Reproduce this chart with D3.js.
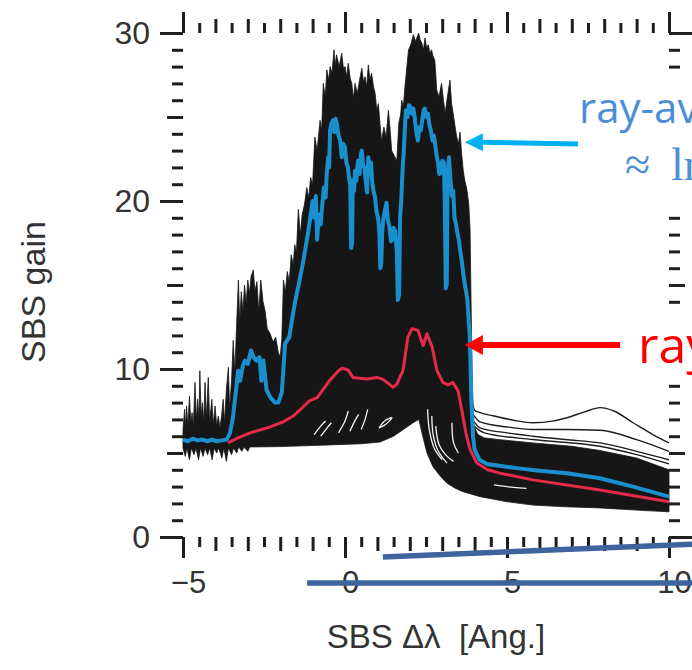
<!DOCTYPE html>
<html><head><meta charset="utf-8">
<script src="https://cdn.jsdelivr.net/npm/d3@7"></script>
<style>body{margin:0;background:#fff} svg{display:block}</style>
</head><body><svg id="c" width="692" height="670"></svg>
<script>
// ---------- data ----------
const xMajor = [-5, 0, 5, 10];
const xLabels = ["−5", "0", "5", "10"];
const yMajor = [0, 10, 20, 30];
const yLabels = ["0", "10", "20", "30"];

// upper edge of the dense bundle of individual ray curves
const upperEnvelope = [
[-5.0,6.4],[-4.95,7.6],[-4.92,6.5],[-4.89,7.8],[-4.85,6.6],[-4.8,8.4],[-4.76,6.8],[-4.72,7.4],[-4.68,6.6],[-4.63,9.2],[-4.59,6.9],[-4.55,8.2],[-4.51,7.0],[-4.48,9.9],[-4.44,7.2],[-4.4,8.0],[-4.36,6.8],[-4.32,9.2],[-4.28,7.0],[-4.22,9.5],[-4.18,6.9],[-4.14,7.6],[-4.11,8.2],[-4.07,6.7],[-4.01,7.8],[-3.96,6.6],[-3.91,7.2],[-3.86,6.5],[-3.81,7.2],[-3.76,8.2],[-3.72,6.8],[-3.66,8.8],[-3.6,10.1],[-3.56,7.6],[-3.5,9.4],[-3.45,11.7],[-3.4,9.8],[-3.35,12.4],[-3.29,15.3],[-3.25,12.8],[-3.2,14.6],[-3.15,13.4],[-3.1,15.0],[-3.05,13.9],[-3.0,15.3],[-2.95,14.5],[-2.9,15.5],[-2.83,15.9],[-2.78,14.6],[-2.72,15.2],[-2.66,13.4],[-2.6,15.3],[-2.53,14.0],[-2.47,13.5],[-2.4,12.4],[-2.31,12.1],[-2.22,11.6],[-2.14,11.9],[-2.06,11.0],[-2.0,10.7],[-1.95,11.8],[-1.9,15.3],[-1.84,14.6],[-1.78,15.8],[-1.72,15.2],[-1.66,16.8],[-1.6,16.2],[-1.55,17.4],[-1.5,16.9],[-1.44,19.5],[-1.38,18.0],[-1.32,19.2],[-1.25,19.8],[-1.18,20.8],[-1.12,20.2],[-1.06,21.4],[-1.0,21.0],[-0.93,23.8],[-0.86,23.0],[-0.77,24.8],[-0.72,24.2],[-0.67,27.0],[-0.61,26.2],[-0.56,27.8],[-0.5,27.2],[-0.46,28.0],[-0.4,27.6],[-0.34,29.0],[-0.3,28.1],[-0.26,28.7],[-0.18,28.0],[-0.1,28.8],[-0.05,27.9],[0.0,28.0],[0.05,27.4],[0.1,28.2],[0.16,27.3],[0.21,27.0],[0.26,26.1],[0.31,27.0],[0.38,26.4],[0.45,27.2],[0.52,27.9],[0.57,27.1],[0.62,27.4],[0.67,26.8],[0.72,28.1],[0.77,27.2],[0.82,27.6],[0.88,26.8],[0.93,26.4],[0.98,25.4],[1.03,25.8],[1.08,24.6],[1.13,23.6],[1.2,24.4],[1.27,23.8],[1.34,25.4],[1.39,24.3],[1.44,23.0],[1.52,22.7],[1.6,22.4],[1.66,24.6],[1.72,25.2],[1.75,26.0],[1.8,25.6],[1.85,26.8],[1.9,27.8],[1.96,29.0],[2.03,29.3],[2.11,29.9],[2.18,29.5],[2.27,30.0],[2.32,29.6],[2.37,29.4],[2.42,29.0],[2.47,29.7],[2.52,29.1],[2.57,29.3],[2.62,28.8],[2.67,29.0],[2.72,28.6],[2.77,28.4],[2.8,27.6],[2.83,26.6],[2.9,26.2],[2.98,27.0],[3.04,26.0],[3.09,25.2],[3.16,26.2],[3.24,27.2],[3.29,25.8],[3.34,25.2],[3.4,24.4],[3.45,23.8],[3.5,23.4],[3.55,24.1],[3.6,22.8],[3.65,21.8],[3.7,21.2],[3.76,20.7],[3.82,19.8],[3.86,18.3],[3.89,14.0],[3.92,10.0],[3.95,7.6],[3.98,6.6],[4.1,6.1],[4.3,5.9],[5.0,5.75],[5.8,5.6],[7.0,5.4],[7.87,5.15],[9.0,4.7],[10.0,4.0]
];
// lower edge of the bundle
const lowerEnvelope = [
[-5.0,5.3],[-4.93,4.8],[-4.88,5.3],[-4.8,4.6],[-4.74,5.3],[-4.66,4.9],[-4.6,5.3],[-4.52,4.6],[-4.46,5.3],[-4.38,4.8],[-4.32,5.3],[-4.24,4.9],[-4.18,5.3],[-4.1,4.6],[-4.04,5.3],[-3.96,5.0],[-3.9,5.3],[-3.8,4.7],[-3.74,5.3],[-3.66,4.5],[-3.6,5.3],[-3.5,4.9],[-3.44,5.3],[-3.34,5.0],[-3.28,5.35],[-3.18,5.1],[-3.12,5.35],[-3.0,5.1],[-2.94,5.36],[-2.0,5.38],[-0.5,5.48],[0.5,5.55],[1.08,5.65],[1.5,6.0],[1.8,6.4],[2.1,6.8],[2.28,7.0],[2.4,6.0],[2.53,5.0],[2.72,4.17],[2.95,3.6],[3.15,3.2],[3.4,2.9],[3.64,2.7],[4.17,2.4],[5.0,2.1],[5.8,1.9],[6.8,1.8],[7.87,1.73],[9.0,1.6],[10.0,1.5]
];
// individual ray curves standing out above the bundle in the tail
const tailRayA = [[3.93,8.0],[4.0,7.55],[4.17,7.4],[4.6,7.2],[5.2,6.95],[5.8,6.8],[6.4,6.9],[6.85,7.1],[7.4,7.45],[7.87,7.7],[8.3,7.5],[8.89,6.8],[9.5,6.1],[10.0,5.6]];
const tailRayB = [[3.95,7.3],[4.17,6.85],[5.0,6.55],[5.8,6.4],[6.8,6.4],[7.87,6.35],[9.0,5.8],[10.0,5.1]];
const tailRayC = [[3.97,6.9],[4.17,6.5],[5.0,6.2],[5.8,6.0],[6.8,5.8],[7.87,5.6],[9.0,5.1],[10.0,4.6]];
const tailRayD = [[3.98,6.6],[4.3,6.2],[5.8,5.8],[7.87,5.4],[9.0,4.9],[10.0,4.35]];
// thin gaps between ray curves inside the bundle
const gapStreaks = [
  [[-0.95,6.1],[-0.75,6.6],[-0.6,6.9]],
  [[-0.75,6.0],[-0.55,6.5],[-0.42,6.8]],
  [[-0.2,6.2],[0.0,6.9],[0.1,7.5]],
  [[0.15,6.3],[0.3,6.9],[0.42,7.3]],
  [[0.5,6.4],[0.62,7.0],[0.7,7.6]],
  [[1.05,6.5],[1.25,6.95],[1.45,7.1],[1.25,6.7],[1.05,6.5]],
  [[2.55,7.6],[2.6,6.4],[2.75,5.3],[3.0,4.6]],
  [[2.68,7.2],[2.72,6.1],[2.88,5.1],[3.15,4.4]],
  [[2.8,6.6],[2.9,5.5],[3.1,4.9],[3.35,4.5]],
  [[3.3,6.8],[3.35,5.6],[3.5,5.0]],
  [[4.6,3.1],[5.2,2.95],[5.6,2.9]]
];

// ray-averaged gain (blue)
const rayAveraged = [
[-5.0,5.8],[-4.85,5.7],[-4.7,5.85],[-4.55,5.75],[-4.4,5.8],[-4.25,5.7],[-4.1,5.8],[-3.95,5.7],[-3.8,5.75],[-3.65,5.8],[-3.55,6.2],[-3.46,7.1],[-3.36,8.8],[-3.3,9.9],[-3.24,9.3],[-3.15,10.2],[-3.09,10.5],[-3.0,10.3],[-2.9,11.1],[-2.82,10.7],[-2.74,10.5],[-2.64,10.7],[-2.58,9.3],[-2.52,10.5],[-2.42,8.75],[-2.3,8.3],[-2.16,8.0],[-2.06,8.0],[-1.95,8.6],[-1.85,11.5],[-1.72,11.9],[-1.62,13.1],[-1.55,13.9],[-1.4,15.3],[-1.28,16.5],[-1.14,18.1],
[-1.0,20.0],[-0.95,19.0],[-0.9,20.3],[-0.86,17.7],[-0.8,19.2],[-0.75,18.6],[-0.71,19.6],[-0.65,20.8],[-0.6,20.2],[-0.56,21.7],[-0.52,22.6],[-0.49,22.0],[-0.46,24.2],[-0.42,24.6],[-0.37,24.8],[-0.33,24.1],[-0.29,24.9],[-0.25,24.6],[-0.2,23.9],[-0.15,23.6],[-0.1,22.6],[-0.05,23.4],[0.0,23.2],[0.04,22.3],[0.09,22.0],[0.13,21.3],[0.16,21.0],[0.19,17.2],[0.22,17.5],[0.24,21.25],[0.28,20.6],[0.31,21.8],[0.35,21.2],[0.4,22.4],[0.45,21.6],[0.49,22.8],[0.52,23.0],[0.56,22.1],[0.6,22.0],[0.64,21.2],[0.68,20.5],[0.72,22.6],[0.76,21.8],[0.8,22.3],[0.84,21.1],[0.88,20.6],[0.93,20.2],[0.97,19.4],[1.02,19.0],[1.06,18.2],[1.09,16.0],[1.12,16.3],[1.15,18.2],[1.18,18.9],[1.23,19.4],[1.28,19.9],[1.32,18.9],[1.37,18.5],[1.42,17.6],[1.46,17.7],[1.5,18.4],[1.55,18.2],[1.6,17.0],[1.63,14.1],[1.67,14.4],[1.7,19.0],[1.74,20.2],[1.78,22.0],[1.81,22.8],[1.85,24.4],[1.88,25.4],[1.93,25.0],[1.97,25.7],[2.02,25.6],[2.07,25.2],[2.11,25.5],[2.15,25.0],[2.2,24.1],[2.25,23.6],[2.3,24.4],[2.34,24.2],[2.39,24.9],[2.43,25.4],[2.46,25.5],[2.51,25.0],[2.56,25.2],[2.6,24.6],[2.65,24.2],[2.7,23.6],[2.74,23.9],[2.78,23.4],[2.83,22.7],[2.87,22.3],[2.91,21.6],[2.96,21.7],[3.0,22.4],[3.05,22.3],[3.08,20.0],[3.11,14.8],[3.14,15.0],[3.17,21.8],[3.21,22.6],[3.25,21.4],[3.3,20.3],[3.34,20.6],[3.38,19.0],[3.43,18.6],[3.47,18.1],[3.52,17.6],[3.56,17.0],[3.6,16.5],[3.65,15.7],[3.7,15.0],[3.74,14.6],[3.78,14.1],[3.82,12.8],[3.85,12.1],[3.88,9.8],[3.9,8.2],
[3.95,6.0],[4.0,5.2],[4.15,4.6],[4.38,4.35],[5.3,4.1],[6.0,3.95],[6.85,3.8],[7.87,3.5],[8.89,3.0],[10.0,2.4]
];
// red curve
const rayRed = [
[-3.61,5.6],[-3.3,5.9],[-2.93,6.2],[-2.31,6.55],[-1.91,6.85],[-1.6,7.2],[-1.39,7.56],[-1.1,8.1],[-0.86,8.3],[-0.46,9.35],[-0.2,9.9],[-0.09,10.05],[0.09,9.95],[0.25,9.5],[0.45,9.45],[0.68,9.4],[0.99,9.5],[1.15,9.4],[1.3,9.2],[1.48,8.9],[1.6,9.1],[1.79,9.9],[1.94,11.9],[2.07,12.4],[2.25,12.3],[2.41,11.4],[2.53,12.1],[2.69,11.3],[2.84,9.9],[3.02,9.2],[3.18,9.05],[3.33,9.2],[3.49,8.7],[3.61,7.5],[3.73,6.2],[3.86,5.2],[4.07,4.4],[4.4,4.0],[4.78,3.8],[5.8,3.4],[7.87,2.8],[10.0,2.1]
];

// ---------- drawing ----------
const svg = d3.select("#c");
const x = d3.scaleLinear().domain([-5, 10]).range([183, 669]);
const y = d3.scaleLinear().domain([0, 30]).range([537, 33]);
const line = d3.line().x(d => x(d[0])).y(d => y(d[1]));
const smooth = d3.line().x(d => x(d[0])).y(d => y(d[1])).curve(d3.curveMonotoneX);
const curvy = d3.line().x(d => x(d[0])).y(d => y(d[1])).curve(d3.curveCatmullRom);

svg.append("rect").attr("width", 692).attr("height", 670).attr("fill", "#fff");

// bundle of ray curves
const bundle = upperEnvelope.concat(lowerEnvelope.slice().reverse());
svg.append("path").attr("d", line(bundle) + "Z").attr("fill", "#161616").attr("stroke", "#161616").attr("stroke-width", 0.8);

gapStreaks.forEach(s => {
  svg.append("path").attr("d", curvy(s)).attr("fill", "none").attr("stroke", "#f4f4f4").attr("stroke-width", 1.3);
});
[tailRayA, tailRayB, tailRayC, tailRayD].forEach(r => {
  svg.append("path").attr("d", smooth(r)).attr("fill", "none").attr("stroke", "#1c1c1c").attr("stroke-width", 1.4);
});

svg.append("path").attr("d", line(rayRed)).attr("fill", "none").attr("stroke", "#e62a4a").attr("stroke-width", 3).attr("stroke-linejoin", "round");
svg.append("path").attr("d", line(rayAveraged)).attr("fill", "none").attr("stroke", "#1a8fcd").attr("stroke-width", 4).attr("stroke-linejoin", "round");

// ---------- axes (ticks only, outward) ----------
const halfX = d3.range(-4.5, 10, 1);
const intX = d3.range(-4, 10).filter(v => v % 5 !== 0);
const minorY = d3.range(1, 30).filter(v => v % 5 !== 0);
const midY = [5, 15, 25];
const tickCol = "#1e1e1e";

function tickLayer(axis, tr) {
  const g = svg.append("g").attr("transform", tr).call(axis);
  g.select(".domain").remove();
  g.selectAll("line").attr("stroke", tickCol).attr("stroke-width", 3);
  return g;
}
const bx = `translate(0,${y(0)})`, tx = `translate(0,${y(30)})`;
const lx = `translate(${x(-5)},0)`, rx = `translate(${x(10)},0)`;
[[d3.axisBottom, bx], [d3.axisTop, tx]].forEach(([A, tr]) => {
  tickLayer(A(x).tickValues(halfX).tickSize(10).tickFormat(""), tr);
  tickLayer(A(x).tickValues(intX).tickSize(14).tickFormat(""), tr);
});
[[d3.axisLeft, lx], [d3.axisRight, rx]].forEach(([A, tr]) => {
  tickLayer(A(y).tickValues(minorY).tickSize(11).tickFormat(""), tr);
  tickLayer(A(y).tickValues(midY).tickSize(16).tickFormat(""), tr);
});
tickLayer(d3.axisTop(x).tickValues(xMajor).tickSize(21).tickFormat(""), tx);
tickLayer(d3.axisRight(y).tickValues(yMajor).tickSize(23).tickFormat(""), rx);

const font = "'Liberation Sans', Arial, Helvetica, sans-serif";
const gb = tickLayer(d3.axisBottom(x).tickValues(xMajor).tickSize(21).tickPadding(13).tickFormat((d, i) => xLabels[i]), bx);
gb.selectAll("text").attr("font-size", 31).attr("font-family", font).attr("fill", "#333").attr("dx", 5);
const gl = tickLayer(d3.axisLeft(y).tickValues(yMajor).tickSize(23).tickPadding(10).tickFormat((d, i) => yLabels[i]), lx);
gl.selectAll("text").attr("font-size", 32).attr("font-family", font).attr("fill", "#333");

// axis titles
svg.append("text").attr("x", 436).attr("y", 648).attr("text-anchor", "middle")
  .attr("font-family", font).attr("font-size", 33).attr("fill", "#333").text("SBS Δλ\u00a0\u00a0[Ang.]");
svg.append("text").attr("transform", "translate(45,292) rotate(-90)").attr("text-anchor", "middle")
  .attr("font-family", font).attr("font-size", 34).attr("fill", "#333").text("SBS gain");

// ---------- annotations ----------
// white text boxes covering the right-hand ticks
svg.append("rect").attr("x", x(7.0)).attr("y", y(27.5)).attr("width", 692 - x(7.0)).attr("height", y(19.6) - y(27.5)).attr("fill", "#fff");
svg.append("rect").attr("x", x(8.64)).attr("y", y(13.5)).attr("width", 692 - x(8.64)).attr("height", y(9.4) - y(13.5)).attr("fill", "#fff");

function arrow(from, to, col, w, headL, headH) {
  const x0 = x(from[0]), y0 = y(from[1]), x1 = x(to[0]), y1 = y(to[1]);
  svg.append("line").attr("x1", x0).attr("y1", y0).attr("x2", x1 + headL - 1).attr("y2", y1)
    .attr("stroke", col).attr("stroke-width", w);
  svg.append("path").attr("d", `M${x1},${y1}L${x1 + headL},${y1 - headH}L${x1 + headL},${y1 + headH}Z`).attr("fill", col);
}
arrow([7.19, 23.4], [3.70, 23.5], "#00b0f0", 5, 18, 9);
arrow([8.49, 11.43], [3.70, 11.43], "#ff0000", 6, 18, 10);

svg.append("text").attr("x", 579).attr("y", 123).attr("font-family", "'Open Sans', 'Liberation Sans', sans-serif")
  .attr("font-size", 42).attr("fill", "#4a8ed8").text("ray-av");
const approx = svg.append("text").attr("y", 180).attr("font-family", "'Liberation Serif', 'DejaVu Serif', serif")
  .attr("font-size", 46).attr("fill", "#4a8ed8");
approx.append("tspan").attr("x", 625).text("≈");
approx.append("tspan").attr("x", 671).text("ln");
svg.append("text").attr("x", 638).attr("y", 363).attr("font-family", "'Open Sans', 'Liberation Sans', sans-serif")
  .attr("font-size", 50).attr("fill", "#ff0000").text("ray");

// dark blue strokes across the x axis
const strokeCol = "#3d649c";
svg.append("line").attr("x1", x(1.17)).attr("y1", y(-1.19)).attr("x2", x(10.8)).attr("y2", y(-0.42))
  .attr("stroke", strokeCol).attr("stroke-width", 5.5);
svg.append("line").attr("x1", x(-1.17)).attr("y1", y(-2.74)).attr("x2", x(10.8)).attr("y2", y(-2.74))
  .attr("stroke", strokeCol).attr("stroke-width", 5.5);
</script>
</body></html>
